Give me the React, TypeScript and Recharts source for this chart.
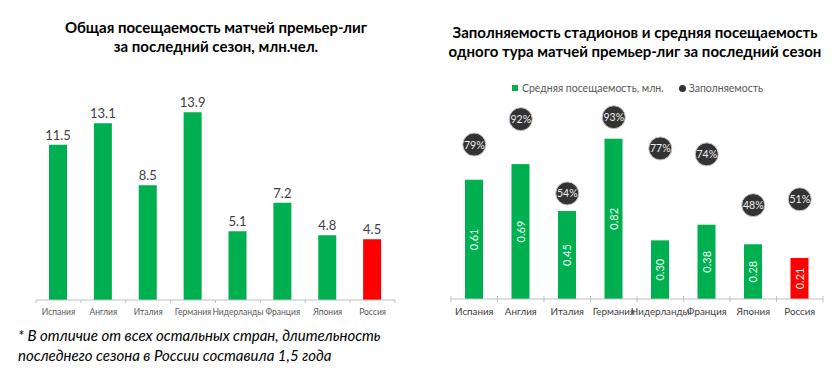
import React from 'react';
import { BarChart, ComposedChart, Bar, Line, XAxis, YAxis, Cell, LabelList } from 'recharts';

const countries = ['Испания', 'Англия', 'Италия', 'Германия', 'Нидерланды', 'Франция', 'Япония', 'Россия'];
const totalAttendance = [11.5, 13.1, 8.5, 13.9, 5.1, 7.2, 4.8, 4.5];
const avgAttendance = [0.61, 0.69, 0.45, 0.82, 0.30, 0.38, 0.28, 0.21];
const fillRate = [79, 92, 54, 93, 77, 74, 48, 51];

const GREEN = '#00B050';
const RED = '#FF0000';
const FONT = 'Lato, "Open Sans", sans-serif';

const leftData = countries.map((c, i) => ({ country: c, total: totalAttendance[i] }));
const rightData = countries.map((c, i) => ({ country: c, avg: avgAttendance[i], fill: fillRate[i] }));

const makeTick = (band: number, fontSize: number, color: string, tickDown: number, tickUp: number) =>
  (props: any) => {
    const { x, y, payload, index } = props;
    return (
      <g>
        <line x1={x - band / 2} x2={x - band / 2} y1={y - tickUp} y2={y + tickDown} stroke="#bfbfbf" />
        {index === countries.length - 1 && (
          <line x1={x + band / 2} x2={x + band / 2} y1={y - tickUp} y2={y + tickDown} stroke="#bfbfbf" />
        )}
        <text x={x} y={y + 12} textAnchor="middle" dominantBaseline="central" fontSize={fontSize} fill={color} fontFamily={FONT}>
          {payload.value}
        </text>
      </g>
    );
  };

const AvgBar = (props: any) => {
  const { x, y, width, height, payload } = props;
  const color = payload.country === 'Россия' ? RED : GREEN;
  const cx = x + width / 2;
  const cy = y + height / 2;
  return (
    <g>
      <rect x={x} y={y} width={width} height={height} fill={color} />
      <text x={cx} y={cy} transform={`rotate(-90 ${cx} ${cy})`} textAnchor="middle" dominantBaseline="central"
        fontSize={11} fill="#eafaf0" fontFamily={FONT}>
        {payload.avg.toFixed(2)}
      </text>
    </g>
  );
};

const FillDot = (props: any) => {
  const { cx, cy, index, payload } = props;
  return (
    <g key={`dot-${index}`}>
      <circle cx={cx} cy={cy} r={11.5} fill="#333333" stroke="#c8c8c8" strokeWidth={1} />
      <text x={cx} y={cy} textAnchor="middle" dominantBaseline="central" fontSize={10.5} fill="#f0f0f0" fontFamily={FONT}>
        {payload.fill}%
      </text>
    </g>
  );
};

const titleStyle: React.CSSProperties = {
  position: 'absolute', fontFamily: FONT, fontWeight: 700, fontSize: 15, lineHeight: '19px',
  color: '#000', textAlign: 'center', whiteSpace: 'nowrap',
};

export default function App() {
  return (
    <div style={{ position: 'absolute', left: 0, top: 0, width: 840, height: 372, background: '#fff', overflow: 'hidden' }}>
      <div style={{ ...titleStyle, left: 16, width: 400, top: 18 }}>
        Общая посещаемость матчей премьер-лиг<br />за последний сезон, млн.чел.
      </div>
      <div style={{ ...titleStyle, left: 435, width: 400, top: 23 }}>
        Заполняемость стадионов и средняя посещаемость<br />одного тура матчей премьер-лиг за последний сезон
      </div>

      <div style={{ position: 'absolute', left: 0, top: 0 }}>
        <BarChart width={420} height={372} data={leftData} margin={{ top: 111, right: 25, bottom: 42, left: 36 }}>
          <XAxis dataKey="country" height={30} tickLine={false} tickSize={0} tickMargin={0} interval={0}
            axisLine={{ stroke: '#bfbfbf' }} tick={makeTick(44.9, 8.5, '#595959', 3, 0)} />
          <YAxis hide width={0} domain={[0, 14]} />
          <Bar dataKey="total" barSize={18} isAnimationActive={false}>
            {leftData.map((d) => (
              <Cell key={d.country} fill={d.country === 'Россия' ? RED : GREEN} />
            ))}
            <LabelList dataKey="total" position="top" offset={5} fontSize={13} fill="#404040"
              fontFamily={FONT} formatter={(v: any) => Number(v).toFixed(1)} />
          </Bar>
        </BarChart>
      </div>

      <div style={{ position: 'absolute', left: 420, top: 0 }}>
        <ComposedChart width={420} height={372} data={rightData} margin={{ top: 103.5, right: 17, bottom: 43, left: 31 }}>
          <XAxis dataKey="country" height={30} tickLine={false} tickSize={0} tickMargin={0} interval={0}
            axisLine={{ stroke: '#bfbfbf' }} tick={makeTick(46.5, 9.8, '#404040', 3, 3)} />
          <YAxis yAxisId="att" hide width={0} domain={[0, 1]} />
          <YAxis yAxisId="pct" hide width={0} domain={[0, 100]} orientation="right" />
          <Bar yAxisId="att" dataKey="avg" barSize={18} isAnimationActive={false} shape={AvgBar} />
          <Line yAxisId="pct" dataKey="fill" stroke="none" dot={FillDot} activeDot={false} isAnimationActive={false} />
        </ComposedChart>
      </div>

      <div style={{ position: 'absolute', left: 512, top: 82, fontFamily: FONT, fontSize: 10.5, color: '#595959', whiteSpace: 'nowrap', display: 'flex', alignItems: 'center' }}>
        <span style={{ display: 'inline-block', width: 6, height: 6, background: GREEN, marginRight: 4 }} />
        <span>Средняя посещаемость, млн.</span>
        <span style={{ display: 'inline-block', width: 7, height: 7, borderRadius: '50%', background: '#333', marginLeft: 15, marginRight: 3 }} />
        <span>Заполняемость</span>
      </div>

      <div style={{ position: 'absolute', left: 18, top: 325, fontFamily: FONT, fontStyle: 'italic', fontSize: 15, lineHeight: '20px', color: '#000', whiteSpace: 'nowrap' }}>
        * В отличие от всех остальных стран, длительность<br />последнего сезона в России составила 1,5 года
      </div>
    </div>
  );
}
